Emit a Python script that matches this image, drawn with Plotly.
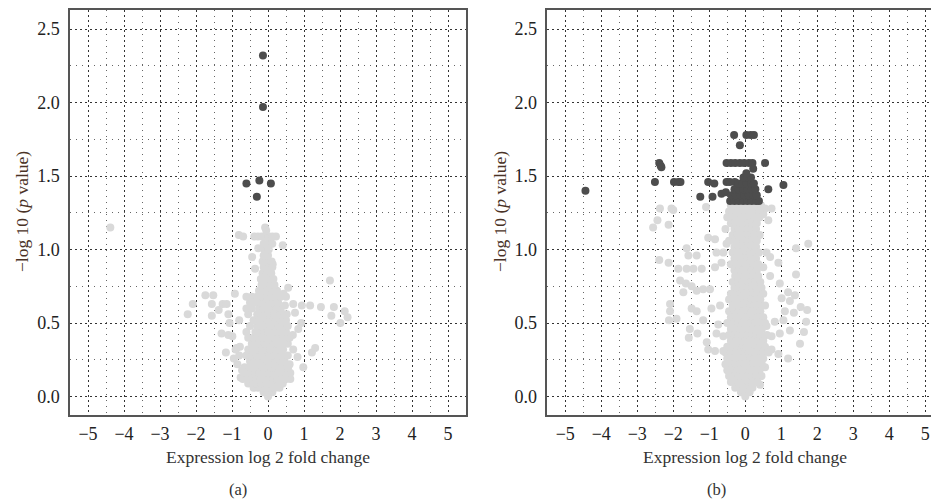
import plotly.graph_objects as go

# ---------------- Panel (a) data ----------------
# significant (dark) genes
a_sig_x = [-0.14, -0.14, -0.60, -0.24, 0.08, -0.31]
a_sig_y = [2.32, 1.97, 1.45, 1.47, 1.45, 1.36]

# scattered non-significant genes
a_bg_x = [-4.38, -0.08, -0.81, -0.69, 0.41, -0.27, -0.44, -0.36, 0.13, 1.72,
          -1.74, -1.52, -0.92, -2.09, -2.23, -1.56, -1.26, -1.15, -1.37, -1.56,
          -1.10, -1.07, -1.29, -1.10, -0.99, -1.17, -0.87, -0.78, -0.76, 0.70,
          0.94, 1.17, 1.47, 1.83, 1.76, 2.13, 2.21, 2.01, 0.75, 0.92,
          0.84, 0.69, 1.22, 1.31, 0.70, 0.82, 0.98, 0.56, 0.43, 0.47, 0.52,
          -0.85, -0.72, 0.62, -0.95, 0.60]
a_bg_y = [1.15, 1.15, 1.10, 1.09, 1.03, 1.01, 0.95, 0.87, 0.90, 0.79,
          0.69, 0.69, 0.70, 0.63, 0.56, 0.63, 0.63, 0.63, 0.59, 0.55,
          0.56, 0.50, 0.43, 0.42, 0.41, 0.30, 0.33, 0.34, 0.13, 0.63,
          0.62, 0.62, 0.61, 0.61, 0.55, 0.58, 0.54, 0.50, 0.57, 0.50,
          0.46, 0.42, 0.30, 0.33, 0.32, 0.27, 0.20, 0.74, 0.70, 0.62, 0.56,
          0.22, 0.18, 0.12, 0.26, 0.22]

# dense central column, read row by row
a_core_row_y = [0.00, 0.03, 0.06, 0.09, 0.12, 0.16, 0.20, 0.24, 0.28, 0.32,
                0.36, 0.40, 0.44, 0.48, 0.52, 0.56, 0.60, 0.64, 0.68, 0.72,
                0.76, 0.80, 0.84, 0.88, 0.92, 0.96, 1.00, 1.04, 1.09, 1.13]
a_core_row_x = [
    [0.0],
    [-0.12, 0.0, 0.12],
    [-0.4, -0.28, -0.16, -0.04, 0.08, 0.2, 0.32],
    [-0.55, -0.43, -0.31, -0.19, -0.07, 0.05, 0.17, 0.29, 0.41],
    [-0.7, -0.58, -0.46, -0.34, -0.22, -0.1, 0.02, 0.14, 0.26, 0.38, 0.5],
    [-0.6, -0.48, -0.36, -0.24, -0.12, 0.0, 0.12, 0.24, 0.36, 0.48, 0.62],
    [-0.65, -0.52, -0.4, -0.28, -0.16, -0.04, 0.08, 0.2, 0.32, 0.44, 0.56],
    [-0.5, -0.38, -0.26, -0.14, -0.02, 0.1, 0.22, 0.34, 0.46],
    [-0.8, -0.6, -0.45, -0.32, -0.2, -0.08, 0.04, 0.16, 0.28, 0.4, 0.55],
    [-0.9, -0.55, -0.42, -0.3, -0.18, -0.06, 0.06, 0.18, 0.3, 0.42],
    [-0.45, -0.33, -0.21, -0.09, 0.03, 0.15, 0.27, 0.39, 0.55],
    [-0.55, -0.4, -0.28, -0.16, -0.04, 0.08, 0.2, 0.32, 0.44, 0.6],
    [-0.6, -0.35, -0.23, -0.11, 0.01, 0.13, 0.25, 0.37, 0.5],
    [-0.5, -0.3, -0.18, -0.06, 0.06, 0.18, 0.3, 0.42, 0.55],
    [-0.8, -0.4, -0.26, -0.14, -0.02, 0.1, 0.22, 0.34, 0.5],
    [-0.55, -0.3, -0.18, -0.06, 0.06, 0.18, 0.3, 0.45],
    [-0.6, -0.45, -0.25, -0.13, -0.01, 0.11, 0.23, 0.35],
    [-0.5, -0.35, -0.2, -0.08, 0.04, 0.16, 0.28],
    [-0.6, -0.45, -0.3, -0.15, -0.03, 0.09, 0.21, 0.35, 0.5],
    [-0.25, -0.12, 0.0, 0.12, 0.25],
    [-0.18, -0.06, 0.06, 0.18],
    [-0.2, -0.08, 0.04, 0.15],
    [-0.15, -0.03, 0.09],
    [-0.12, 0.0, 0.12],
    [-0.15, -0.03, 0.1],
    [-0.12, 0.0],
    [-0.1, 0.02],
    [-0.12, 0.0, 0.12],
    [-0.38, -0.28, -0.18, -0.08, 0.02, 0.12, 0.22],
    [-0.05],
]

# ---------------- Panel (b) data ----------------
b_sig_x = [-4.44, -2.39, -2.35, -2.33, -2.51, -1.98, -1.86, -1.80, -1.25, -1.03,
           -0.86, -0.91, -0.66, -0.52, -0.43, -0.29, -0.54, -0.31, -0.15, 0.03,
           0.15, 0.24, -0.52, -0.40, -0.28, -0.15, -0.03, 0.10, 0.20, 0.55,
           0.22, 0.64, 1.06]
b_sig_y = [1.40, 1.59, 1.57, 1.56, 1.46, 1.46, 1.46, 1.46, 1.36, 1.46,
           1.45, 1.36, 1.38, 1.46, 1.46, 1.46, 1.39, 1.78, 1.71, 1.78,
           1.78, 1.78, 1.59, 1.59, 1.59, 1.59, 1.59, 1.59, 1.59, 1.59,
           1.55, 1.41, 1.44]

b_sig_row_y = [1.33, 1.37, 1.41, 1.45, 1.49, 1.52]
b_sig_row_x = [
    [-0.42, -0.3, -0.18, -0.06, 0.06, 0.18, 0.3, 0.38],
    [-0.38, -0.26, -0.14, -0.02, 0.1, 0.22, 0.32],
    [-0.3, -0.18, -0.06, 0.06, 0.18, 0.28],
    [-0.2, -0.08, 0.04, 0.16, 0.24],
    [-0.05, 0.07, 0.16],
    [0.03],
]

b_bg_x = [-2.37, -2.05, -2.00, -2.44, -2.56, -2.13, -1.09, -1.03, -0.84, -1.63,
          -1.58, -1.35, -2.39, -2.13, -1.86, -1.63, -1.44, -1.21, -1.81, -1.65,
          -1.49, -1.35, -1.17, -1.72, -0.98, -0.80, -0.61, -0.52, -0.84, -0.66,
          -2.09, -2.09, -2.12, -1.91, -1.49, -1.35, -1.17, -0.94, -0.70, -1.54,
          -1.33, -1.57, -1.07, -1.03, -0.84, -0.61, -0.80, -0.75, -0.61, -0.47,
          0.50, 0.64, 0.55, 0.73, 1.75, 1.41, 0.59, 0.69, 0.50, 0.92,
          0.69, 0.96, 1.41, 1.19, 1.38, 1.01, 1.24, 1.54, 1.72, 1.10,
          1.35, 1.69, 1.24, 1.63, 1.52, 1.19, 0.96, 0.82, 1.06, 0.59,
          0.73, 0.73, 0.92, 0.55, 0.41]
b_bg_y = [1.28, 1.28, 1.27, 1.20, 1.15, 1.17, 1.29, 1.08, 1.07, 1.01,
          0.96, 0.96, 0.93, 0.91, 0.87, 0.87, 0.87, 0.87, 0.79, 0.77,
          0.75, 0.72, 0.73, 0.71, 0.73, 0.98, 0.98, 1.04, 0.88, 0.91,
          0.63, 0.58, 0.52, 0.53, 0.60, 0.58, 0.52, 0.60, 0.62, 0.46,
          0.43, 0.40, 0.37, 0.32, 0.31, 0.31, 0.43, 0.49, 0.41, 0.26,
          1.24, 1.20, 1.28, 1.28, 1.04, 1.01, 0.98, 0.95, 0.88, 0.91,
          0.82, 0.77, 0.83, 0.71, 0.69, 0.67, 0.65, 0.61, 0.59, 0.58,
          0.57, 0.51, 0.45, 0.44, 0.36, 0.26, 0.43, 0.51, 0.52, 0.48,
          0.41, 0.32, 0.29, 0.20, 0.08]

b_core_row_y = [1.30, 1.26, 1.22, 1.18, 1.14, 1.10, 1.06, 1.02, 0.98, 0.94,
                0.90, 0.86, 0.82, 0.78, 0.74, 0.70, 0.66, 0.62, 0.58, 0.54,
                0.50, 0.46, 0.42, 0.38, 0.34, 0.30, 0.26, 0.22, 0.18, 0.14,
                0.10, 0.06, 0.03, 0.00]
b_core_row_x = [
    [-0.4, -0.28, -0.16, -0.04, 0.08, 0.2, 0.32, 0.44],
    [-0.45, -0.33, -0.21, -0.09, 0.03, 0.15, 0.27, 0.39],
    [-0.5, -0.35, -0.23, -0.11, 0.01, 0.13, 0.25, 0.4],
    [-0.4, -0.28, -0.16, -0.04, 0.08, 0.2, 0.32],
    [-0.55, -0.3, -0.18, -0.06, 0.06, 0.18, 0.3],
    [-0.35, -0.22, -0.1, 0.02, 0.14, 0.26, 0.4],
    [-0.45, -0.28, -0.16, -0.04, 0.08, 0.2, 0.32],
    [-0.3, -0.18, -0.06, 0.06, 0.18, 0.3],
    [-0.35, -0.22, -0.1, 0.02, 0.14, 0.26, 0.38],
    [-0.3, -0.18, -0.06, 0.06, 0.18, 0.3],
    [-0.4, -0.25, -0.12, 0.0, 0.12, 0.24, 0.36],
    [-0.3, -0.18, -0.06, 0.06, 0.18, 0.32],
    [-0.28, -0.14, -0.02, 0.1, 0.22, 0.36],
    [-0.35, -0.2, -0.08, 0.04, 0.16, 0.28, 0.42],
    [-0.3, -0.16, -0.04, 0.08, 0.2, 0.32, 0.45],
    [-0.4, -0.26, -0.14, -0.02, 0.1, 0.22, 0.34, 0.5],
    [-0.45, -0.3, -0.18, -0.06, 0.06, 0.18, 0.3, 0.42],
    [-0.35, -0.22, -0.1, 0.02, 0.14, 0.26, 0.38, 0.55],
    [-0.45, -0.3, -0.18, -0.06, 0.06, 0.18, 0.3, 0.42],
    [-0.4, -0.25, -0.12, 0.0, 0.12, 0.24, 0.36, 0.5],
    [-0.5, -0.32, -0.2, -0.08, 0.04, 0.16, 0.28, 0.4, 0.55],
    [-0.4, -0.26, -0.14, -0.02, 0.1, 0.22, 0.34, 0.46],
    [-0.45, -0.3, -0.18, -0.06, 0.06, 0.18, 0.3, 0.42, 0.6],
    [-0.4, -0.25, -0.12, 0.0, 0.12, 0.24, 0.36, 0.5],
    [-0.5, -0.35, -0.2, -0.08, 0.04, 0.16, 0.28, 0.4, 0.55],
    [-0.55, -0.4, -0.27, -0.14, -0.02, 0.1, 0.22, 0.34, 0.48, 0.65],
    [-0.5, -0.35, -0.22, -0.1, 0.02, 0.14, 0.26, 0.38, 0.5],
    [-0.55, -0.4, -0.26, -0.14, -0.02, 0.1, 0.22, 0.34, 0.46],
    [-0.5, -0.35, -0.22, -0.1, 0.02, 0.14, 0.26, 0.4],
    [-0.45, -0.3, -0.18, -0.06, 0.06, 0.18, 0.3, 0.45],
    [-0.4, -0.26, -0.14, -0.02, 0.1, 0.22, 0.34],
    [-0.28, -0.16, -0.04, 0.08, 0.2],
    [-0.12, 0.0, 0.12],
    [0.0],
]

x_title = "Expression log 2 fold change"
y_title = "\u2212log 10 (<i>p</i> value)"
captions = ["(a)", "(b)"]


def expand(rows_y, rows_x):
    xs, ys = [], []
    for yv, row in zip(rows_y, rows_x):
        for xv in row:
            xs.append(xv)
            ys.append(yv)
    return xs, ys


a_core_x, a_core_y = expand(a_core_row_y, a_core_row_x)
b_core_x, b_core_y = expand(b_core_row_y, b_core_row_x)
b_sig2_x, b_sig2_y = expand(b_sig_row_y, b_sig_row_x)

GRAY = "#d9d9d9"
DARK = "#4d4d4d"
MS = 8
FONT = "Liberation Serif"

fig = go.Figure()
fig.add_trace(go.Scatter(x=a_bg_x + a_core_x, y=a_bg_y + a_core_y, mode="markers",
                         marker=dict(color=GRAY, size=MS), xaxis="x", yaxis="y",
                         showlegend=False, hoverinfo="skip"))
fig.add_trace(go.Scatter(x=a_sig_x, y=a_sig_y, mode="markers",
                         marker=dict(color=DARK, size=MS), xaxis="x", yaxis="y",
                         showlegend=False))
fig.add_trace(go.Scatter(x=b_bg_x + b_core_x, y=b_bg_y + b_core_y, mode="markers",
                         marker=dict(color=GRAY, size=MS), xaxis="x2", yaxis="y2",
                         showlegend=False, hoverinfo="skip"))
fig.add_trace(go.Scatter(x=b_sig_x + b_sig2_x, y=b_sig_y + b_sig2_y, mode="markers",
                         marker=dict(color=DARK, size=MS), xaxis="x2", yaxis="y2",
                         showlegend=False))

W, H = 931, 500
ya_dom = [1 - 415 / H, 1 - 10 / H]

major_grid = dict(showgrid=True, gridcolor="#333333", gridwidth=1, griddash="2px,3px")
minor_x = dict(tick0=0.5, dtick=1, showgrid=True, gridcolor="#666666", gridwidth=1,
               griddash="1px,5px", ticks="")
minor_y = dict(tick0=0.25, dtick=0.5, showgrid=True, gridcolor="#666666", gridwidth=1,
               griddash="1px,5px", ticks="")
tickfont = dict(family=FONT, size=18, color="#222222")


def xaxis(domain, rng, anchor):
    return dict(domain=domain, range=rng, anchor=anchor, tickmode="linear",
                tick0=0, dtick=1,
                zeroline=False, showline=True, linecolor="#555555", linewidth=1.5,
                mirror=True, ticks="", ticklabelstandoff=2, tickfont=tickfont,
                minor=minor_x, **major_grid)


def yaxis(anchor, mirror):
    return dict(domain=ya_dom, range=[-0.125, 2.63], anchor=anchor,
                tickmode="linear", tick0=0, dtick=0.5, tickformat=".1f",
                zeroline=False,
                showline=True, linecolor="#555555", linewidth=1.5, mirror=mirror,
                ticks="", ticklabelstandoff=5, tickfont=tickfont,
                minor=minor_y, **major_grid)


fig.update_layout(
    width=W, height=H,
    margin=dict(l=0, r=0, t=0, b=0),
    paper_bgcolor="white", plot_bgcolor="white",
    xaxis=xaxis([70 / W, 466 / W], [-5.5, 5.5], "y"),
    yaxis=yaxis("x", True),
    xaxis2=xaxis([547.3 / W, 1.0], [-5.5, 5.16], "y2"),
    yaxis2=yaxis("x2", False),
)

ann = []
for cx, lx in [(268, 22), (745.3, 500)]:
    ann.append(dict(x=cx / W, y=1 - 457 / H, xref="paper", yref="paper",
                    text=x_title, showarrow=False, xanchor="center", yanchor="middle",
                    font=dict(family=FONT, size=17.5, color="#333333")))
    ann.append(dict(x=lx / W, y=1 - 212 / H, xref="paper", yref="paper",
                    text=y_title, showarrow=False, textangle=-90,
                    xanchor="center", yanchor="middle",
                    font=dict(family=FONT, size=17.5, color="#4a3226")))
for cap, cx in zip(captions, [238, 716]):
    ann.append(dict(x=cx / W, y=1 - 489 / H, xref="paper", yref="paper",
                    text=cap, showarrow=False, xanchor="center", yanchor="middle",
                    font=dict(family=FONT, size=16.5, color="#333333")))
fig.update_layout(annotations=ann)

fig.write_html("out.html", config={"displayModeBar": False},
               post_script="document.body.style.margin='0';document.body.style.padding='0';")
